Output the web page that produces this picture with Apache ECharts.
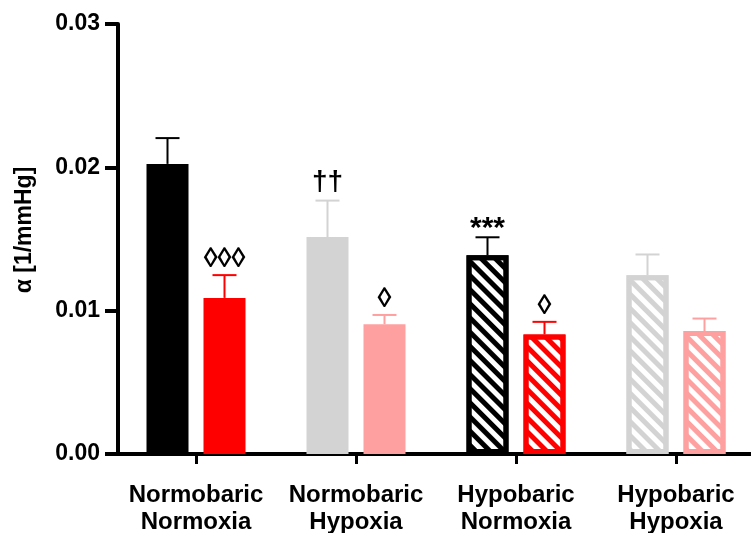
<!DOCTYPE html>
<html>
<head>
<meta charset="utf-8">
<script src="https://cdn.jsdelivr.net/npm/echarts@6/dist/echarts.min.js"></script>
<style>
html,body{margin:0;padding:0;background:#fff;}
#chart{width:751px;height:533px;}
</style>
</head>
<body>
<div id="chart"></div>
<script>
// ---- data ----
const categories = ['Normobaric\nNormoxia', 'Normobaric\nHypoxia', 'Hypobaric\nNormoxia', 'Hypobaric\nHypoxia'];
const darkValues = [0.02024, 0.01514, 0.01387, 0.01247];
const darkErrors = [0.00180, 0.00254, 0.00125, 0.00145];
const redValues  = [0.01089, 0.00906, 0.00834, 0.00858];
const redErrors  = [0.00159, 0.00064, 0.00088, 0.00087];
const darkMarks  = ['', '††', '***', ''];
const redMarks   = ['◊◊◊', '◊', '◊', ''];
const yTicks     = [0, 0.01, 0.02, 0.03];

// ---- styles ----
const darkColors = ['#000000', '#d3d3d3', '#000000', '#d3d3d3'];
const redColors  = ['#ff0000', '#ffa0a0', '#ff0000', '#ffa0a0'];
const hatched    = [false, false, true, true];
const FONT = "'Liberation Sans', Arial, Helvetica, sans-serif";
const BAR_W = 42, BORDER = 5, GAP = 15;
const OFFSET = (BAR_W + GAP) / 2;

function barData(values, colors) {
  return values.map((v, i) => {
    const c = colors[i];
    const style = hatched[i]
      ? { color: '#ffffff', borderColor: c, borderWidth: BORDER,
          decal: { symbol: 'rect', symbolSize: 1, color: c,
                   dashArrayX: [1, 0], dashArrayY: [5, 5], rotation: Math.PI / 4 } }
      : { color: c, borderColor: c, borderWidth: BORDER };
    return { value: v, itemStyle: style };
  });
}

function markFont(m) {
  if (m === '***') return 'bold 30px ' + FONT;
  return 'bold 28px ' + FONT;
}

function errSeries(values, errors, colors, marks, side) {
  return {
    type: 'custom',
    z: 5,
    data: values.map((v, i) => [i, v, v + errors[i]]),
    renderItem: function (params, api) {
      const i = params.dataIndex;
      const p0 = api.coord([api.value(0), api.value(1)]);
      const p1 = api.coord([api.value(0), api.value(2)]);
      const x = p0[0] + side * OFFSET;
      const c = colors[i];
      const children = [
        { type: 'line', shape: { x1: x, y1: p0[1], x2: x, y2: p1[1] },
          style: { stroke: c, lineWidth: 2 } },
        { type: 'line', shape: { x1: x - 12, y1: p1[1], x2: x + 12, y2: p1[1] },
          style: { stroke: c, lineWidth: 2 } }
      ];
      if (marks[i]) {
        const m = marks[i];
        const dy = m === '***' ? -6 : (m === '††' ? 4 : 2);
        children.push({
          type: 'text',
          x: x, y: p1[1] - dy,
          style: {
            text: m, fill: '#000',
            font: markFont(m),
            align: 'center', verticalAlign: 'bottom',
            textAlign: 'center', textVerticalAlign: 'bottom'
          }
        });
      }
      return { type: 'group', children: children };
    }
  };
}

const chart = echarts.init(document.getElementById('chart'), null, { renderer: 'canvas' });
chart.setOption({
  animation: false,
  backgroundColor: '#ffffff',
  grid: { left: 116, top: 24, width: 640, height: 430, containLabel: false, outerBoundsMode: 'none' },
  xAxis: {
    type: 'category',
    data: categories,
    axisLine: { show: true, lineStyle: { color: '#000', width: 4 } },
    axisTick: { show: true, alignWithLabel: true, length: 10, lineStyle: { color: '#000', width: 3 } },
    axisLabel: { color: '#000', fontFamily: FONT, fontWeight: 'bold', fontSize: 24,
                 lineHeight: 27, margin: 28, interval: 0 },
    splitLine: { show: false }
  },
  yAxis: {
    type: 'value',
    min: yTicks[0], max: yTicks[yTicks.length - 1], interval: 0.01,
    offset: -2,
    name: 'α [1/mmHg]',
    nameLocation: 'middle',
    nameGap: 82,
    nameTextStyle: { color: '#000', fontFamily: FONT, fontWeight: 'bold', fontSize: 23,
                     padding: [0, 0, 0, 18] },
    axisLine: { show: true, lineStyle: { color: '#000', width: 4 } },
    axisTick: { show: true, length: 13, lineStyle: { color: '#000', width: 4 } },
    axisLabel: { color: '#000', fontFamily: FONT, fontWeight: 'bold', fontSize: 23, margin: 18,
                 formatter: v => v.toFixed(2) },
    splitLine: { show: false }
  },
  series: [
    { type: 'bar', barWidth: BAR_W, barGap: (GAP / BAR_W * 100) + '%', z: 3,
      data: barData(darkValues, darkColors) },
    { type: 'bar', barWidth: BAR_W, z: 3,
      data: barData(redValues, redColors) },
    errSeries(darkValues, darkErrors, darkColors, darkMarks, -1),
    errSeries(redValues, redErrors, redColors, redMarks, 1)
  ]
});
</script>
</body>
</html>
